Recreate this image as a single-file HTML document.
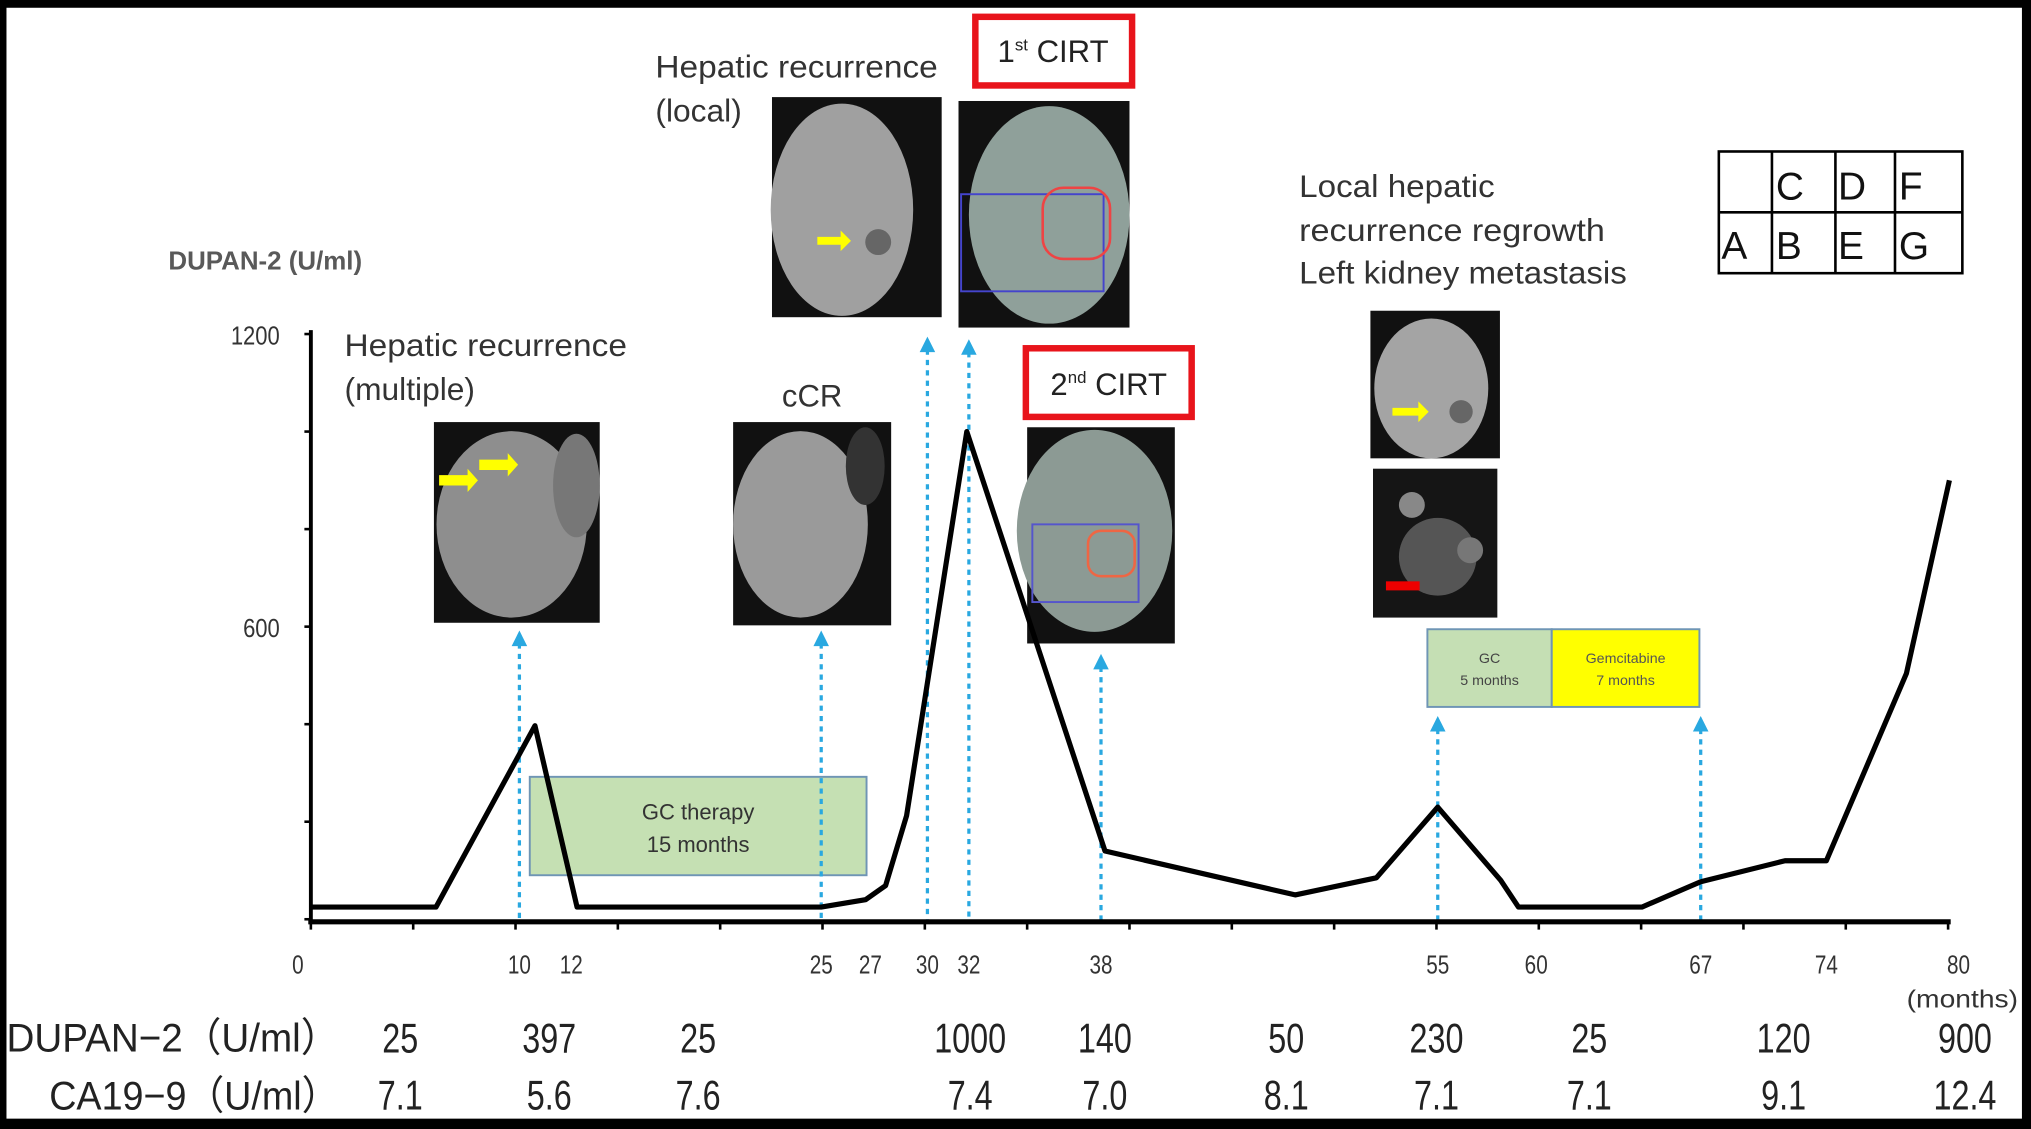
<!DOCTYPE html>
<html><head><meta charset="utf-8">
<style>
html,body{margin:0;padding:0;background:#000;}
svg{display:block;}
text{font-family:"Liberation Sans",sans-serif;}
.n{font-family:"Liberation Sans Narrow","Liberation Sans",sans-serif;}
</style></head>
<body>
<svg id="chart" width="2031" height="1129" viewBox="0 0 1568 872" preserveAspectRatio="none" xmlns="http://www.w3.org/2000/svg">
<rect x="0" y="0" width="1568" height="872" fill="#000"/>
<rect x="5" y="6" width="1556" height="858" fill="#fff"/>

<text x="130" y="208" font-size="20" font-weight="bold" fill="#595959">DUPAN-2 (U/ml)</text>

<g font-size="24.5" fill="#333">
<text x="266" y="275" textLength="218" lengthAdjust="spacingAndGlyphs">Hepatic recurrence</text><text x="266" y="309">(multiple)</text></g>
<text x="627" y="314" font-size="24" fill="#333" text-anchor="middle">cCR</text>
<g font-size="24.5" fill="#333">
<text x="506" y="60" textLength="218" lengthAdjust="spacingAndGlyphs">Hepatic recurrence</text><text x="506" y="94">(local)</text></g>
<g font-size="24.5" fill="#333">
<text x="1003" y="152" textLength="151" lengthAdjust="spacingAndGlyphs">Local hepatic</text><text x="1003" y="186" textLength="236" lengthAdjust="spacingAndGlyphs">recurrence regrowth</text><text x="1003" y="219" textLength="253" lengthAdjust="spacingAndGlyphs">Left kidney metastasis</text></g>

<g>
<rect x="753" y="13" width="121" height="53" fill="#fff" stroke="#e8141b" stroke-width="5"/>
<text x="813" y="48" font-size="24" fill="#222" text-anchor="middle">1<tspan font-size="13" dy="-9">st</tspan><tspan dy="9"> CIRT</tspan></text></g>
<g>
<rect x="792" y="269" width="128" height="53" fill="#fff" stroke="#e8141b" stroke-width="5"/>
<text x="856" y="305" font-size="24" fill="#222" text-anchor="middle">2<tspan font-size="13" dy="-9">nd</tspan><tspan dy="9"> CIRT</tspan></text></g>

<g>
<rect x="335" y="326" width="128" height="155" fill="#111"/><ellipse cx="395" cy="405" rx="58" ry="72" fill="#8e8e8e"/><ellipse cx="445" cy="375" rx="18" ry="40" fill="#777"/>
<path d="M339 367h22v-5l8 9-8 9v-5h-22z" fill="#ff0"/><path d="M370 355h22v-5l8 9-8 9v-5h-22z" fill="#ff0"/></g>
<g>
<rect x="566" y="326" width="122" height="157" fill="#111"/><ellipse cx="618" cy="405" rx="52" ry="72" fill="#9a9a9a"/><ellipse cx="668" cy="360" rx="15" ry="30" fill="#333"/></g>
<g>
<rect x="596" y="75" width="131" height="170" fill="#111"/><ellipse cx="650" cy="162" rx="55" ry="82" fill="#a0a0a0"/><circle cx="678" cy="187" r="10" fill="#666"/>
<path d="M631 183h18v-5l8 8-8 8v-5h-18z" fill="#ff0"/></g>
<g>
<rect x="740" y="78" width="132" height="175" fill="#111"/><ellipse cx="810" cy="166" rx="62" ry="84" fill="#8fa09a"/>
<rect x="742" y="150" width="110" height="75" fill="none" stroke="#44c" stroke-width="1.5"/><rect x="805" y="145" width="52" height="55" rx="16" fill="none" stroke="#e44" stroke-width="2"/></g>
<g>
<rect x="793" y="330" width="114" height="167" fill="#111"/><ellipse cx="845" cy="410" rx="60" ry="78" fill="#8c9a94"/>
<rect x="797" y="405" width="82" height="60" fill="none" stroke="#55c" stroke-width="1.5"/><rect x="840" y="410" width="36" height="35" rx="10" fill="none" stroke="#e64" stroke-width="2"/></g>
<g>
<rect x="1058" y="240" width="100" height="114" fill="#111"/><ellipse cx="1105" cy="300" rx="44" ry="54" fill="#a4a4a4"/><circle cx="1128" cy="318" r="9" fill="#666"/>
<path d="M1075 315h20v-5l8 8-8 8v-5h-20z" fill="#ff0"/></g>
<g>
<rect x="1060" y="362" width="96" height="115" fill="#151515"/><ellipse cx="1110" cy="430" rx="30" ry="30" fill="#555"/><circle cx="1090" cy="390" r="10" fill="#888"/><circle cx="1135" cy="425" r="10" fill="#777"/>
<rect x="1070" y="449" width="26" height="7" fill="#e00"/></g>

<g>
<rect x="409" y="600" width="260" height="76" fill="#c5e0b3" stroke="#6f95b5" stroke-width="1.5"/>
<text x="539" y="633" font-size="17" fill="#333" text-anchor="middle">GC therapy</text><text x="539" y="658" font-size="17" fill="#333" text-anchor="middle">15 months</text></g>
<g>
<rect x="1102" y="486" width="96" height="60" fill="#c5dfb4" stroke="#6f95b5" stroke-width="1.5"/>
<text x="1150" y="512" font-size="11" fill="#444" text-anchor="middle">GC</text><text x="1150" y="529" font-size="11" fill="#444" text-anchor="middle">5 months</text></g>
<g>
<rect x="1198" y="486" width="114" height="60" fill="#ffff00" stroke="#6f95b5" stroke-width="1.5"/>
<text x="1255" y="512" font-size="11" fill="#555" text-anchor="middle">Gemcitabine</text><text x="1255" y="529" font-size="11" fill="#555" text-anchor="middle">7 months</text></g>

<g stroke="#000" stroke-width="2" fill="none">
<rect x="1327" y="117" width="188" height="94"/><line x1="1327" y1="164" x2="1515" y2="164"/>
<line x1="1368" y1="117" x2="1368" y2="211"/><line x1="1417" y1="117" x2="1417" y2="211"/><line x1="1463" y1="117" x2="1463" y2="211"/></g>
<g font-size="30" fill="#111">
<text x="1371" y="154">C</text><text x="1419" y="154">D</text><text x="1466" y="154">F</text>
<text x="1329" y="200">A</text><text x="1371" y="200">B</text><text x="1419" y="200">E</text><text x="1466" y="200">G</text></g>

<g id="plot"></g>
<g id="table"></g>
<text x="1472" y="778" font-size="19" fill="#333" textLength="86" lengthAdjust="spacingAndGlyphs">(months)</text>
</svg>
<script>
const months = [0, 6, 10.6, 12.3, 25, 26.8, 27.8, 28.9, 31.9, 38.2, 47.8, 51.9, 55, 58.2, 59.1, 64.5, 67, 71.7, 74, 77.9, 80];
const dupan = [25, 25, 397, 25, 25, 40, 69, 212, 1000, 140, 50, 85, 230, 80, 25, 25, 77, 120, 120, 504, 900];
const xTickLabels = [0, 10, 12, 25, 27, 30, 32, 38, 55, 60, 67, 74, 80];
const yTickValues = [0, 200, 400, 600, 800, 1000, 1200];
const yTickLabels = ["", "", "", "600", "", "", "1200"];
const eventMonths = [10, 25, 30, 32, 38, 55, 67];
const eventArrowTops = [487, 487, 260, 262, 505, 553, 553];
const tableDupan = ["25", "397", "25", "1000", "140", "50", "230", "25", "120", "900"];
const tableCA = ["7.1", "5.6", "7.6", "7.4", "7.0", "8.1", "7.1", "7.1", "9.1", "12.4"];

const xDomain = [0, 10, 12, 25, 27, 30, 32, 38, 55, 60, 67, 74, 80];
const xRange = [240, 401, 441, 634, 672, 716, 748, 850, 1110, 1186, 1313, 1410, 1505];
function xScale(m){
  for(let i=0;i<xDomain.length-1;i++){
    if(m<=xDomain[i+1]||i===xDomain.length-2){
      const t=(m-xDomain[i])/(xDomain[i+1]-xDomain[i]);
      return xRange[i]+t*(xRange[i+1]-xRange[i]);
    }
  }
}
const Y0=710, Y1=258;
function yScale(v){ return Y0-(v/1200)*(Y0-Y1); }

const NS="http://www.w3.org/2000/svg";
const plot=document.getElementById('plot');
const table=document.getElementById('table');
function mk(tag,attrs,parent){const e=document.createElementNS(NS,tag);for(const k in attrs)e.setAttribute(k,attrs[k]);(parent||plot).appendChild(e);return e;}

eventMonths.forEach((m,i)=>{
  const x=xScale(m);
  const ln=mk('line',{x1:x,y1:eventArrowTops[i]+10,x2:x,y2:712,stroke:'#29a8e0','stroke-width':2.5,'stroke-dasharray':'4,4'});
  
  
  const ar=mk('path',{d:`M${x-6} ${eventArrowTops[i]+12}L${x} ${eventArrowTops[i]}L${x+6} ${eventArrowTops[i]+12}Z`,fill:'#29a8e0'});
  
  
});

const ya=mk('line',{x1:240,y1:255,x2:240,y2:713,stroke:'#000','stroke-width':3});


const xa=mk('line',{x1:238,y1:712,x2:1506,y2:712,stroke:'#000','stroke-width':4});


yTickValues.forEach((v,i)=>{
  const y=yScale(v);
  const t=mk('line',{x1:235,y1:y,x2:240,y2:y,stroke:'#000','stroke-width':2});
  
  
  if(yTickLabels[i]){
    const tx=mk('text',{transform:`translate(216,${y+8}) scale(0.85,1)`,'font-size':20,'text-anchor':'end',fill:'#333'});
    tx.textContent=yTickLabels[i];
    
    
  }
});
for(let k=0;k<=16;k++){
  const x=240+k*79;
  if(x>1506)break;
  const t=mk('line',{x1:x,y1:712,x2:x,y2:718,stroke:'#000','stroke-width':2});
  
  
}
xTickLabels.forEach(m=>{
  let x=xScale(m); if(m===0)x-=10; if(m===80)x+=7;
  const tx=mk('text',{transform:`translate(${x},752) scale(0.8,1)`,'font-size':20,'text-anchor':'middle',fill:'#333'});
  tx.textContent=m;
  
  
});

const pts=months.map((m,i)=>xScale(m).toFixed(1)+','+yScale(dupan[i]).toFixed(1)).join(' ');
const pl=mk('polyline',{points:pts,fill:'none',stroke:'#000','stroke-width':4,'stroke-linejoin':'round'});



const r1=mk('text',{x:5,y:812,'font-size':31,fill:'#222',textLength:257,lengthAdjust:'spacingAndGlyphs'},table);
r1.textContent='DUPAN−2（U/ml）';


const r2=mk('text',{x:38,y:857,'font-size':31,fill:'#222',textLength:224,lengthAdjust:'spacingAndGlyphs'},table);
r2.textContent='CA19−9（U/ml）';


const tableX=[309,424,539,749,853,993,1109,1227,1377,1517];
tableDupan.forEach((d,i)=>{
  const a=mk('text',{transform:`translate(${tableX[i]},813) scale(0.78,1)`,'font-size':32,'text-anchor':'middle',fill:'#222'},table);
  a.textContent=d;
  
  
  const b=mk('text',{transform:`translate(${tableX[i]},857) scale(0.78,1)`,'font-size':32,'text-anchor':'middle',fill:'#222'},table);
  b.textContent=tableCA[i];
  
  
});
</script>
</body></html>
